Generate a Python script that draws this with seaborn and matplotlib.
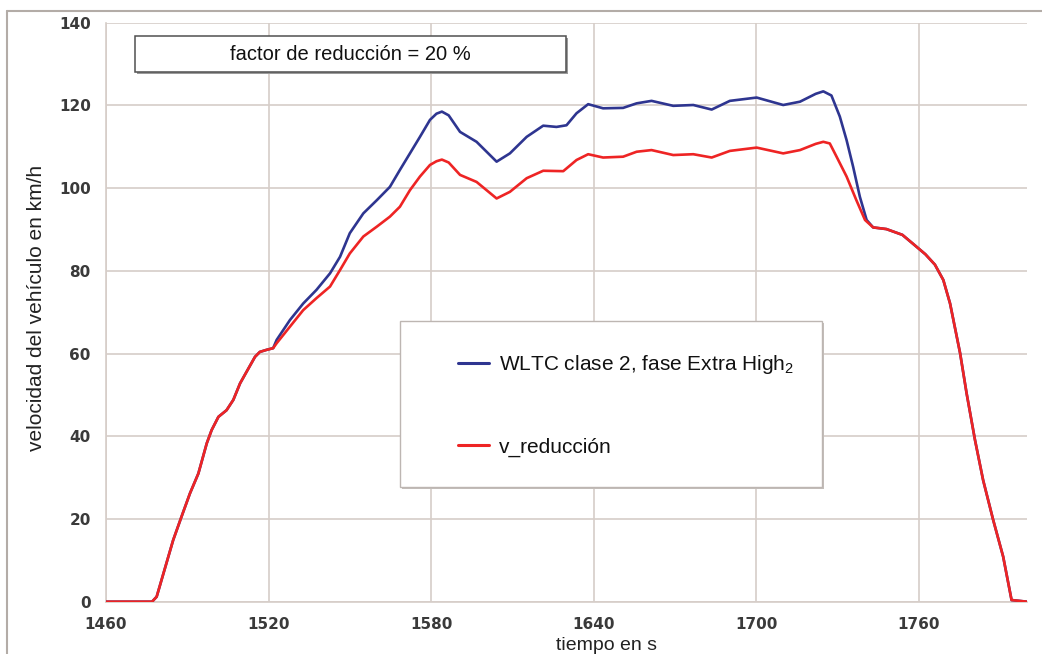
import matplotlib
matplotlib.use("Agg")
import matplotlib.pyplot as plt
from matplotlib.patches import Rectangle
from matplotlib.lines import Line2D
import seaborn as sns
import pandas as pd

# tramo común (arranque), ambas curvas coinciden
t_inicio = [1460, 1477, 1478.7, 1484.8, 1487.9, 1491, 1494.1, 1497.2, 1499, 1501.5,
            1504.5, 1507, 1509.5, 1511.9, 1515, 1516.8, 1519.3, 1521.7]
v_inicio = [0, 0, 1.2, 14.9, 20.6, 26.2, 31, 38.3, 41.5, 44.7,
            46.3, 48.8, 52.8, 55.6, 59.2, 60.4, 60.9, 61.3]

# WLTC clase 2, fase Extra High2
t_wltc = [1523, 1527.9, 1532.8, 1537.7, 1542.7, 1546.4, 1550, 1555, 1560, 1564.8,
          1568.5, 1572.2, 1575.9, 1579.6, 1582, 1584, 1586.5, 1590.7, 1596.8, 1600.5,
          1604.2, 1609.1, 1615.3, 1621.4, 1626.3, 1630, 1633.7, 1638, 1643.5, 1650.9,
          1655.9, 1661.4, 1669.4, 1676.8, 1683.6, 1690.3, 1700.2, 1710, 1716.2, 1722,
          1724.8, 1727.8, 1730.9, 1733.4, 1735.8, 1738.3, 1740.8]
v_wltc = [63.3, 68.1, 72.1, 75.4, 79.4, 83.4, 89.1, 93.9, 97.1, 100.3,
          104.4, 108.4, 112.4, 116.5, 118.0, 118.5, 117.6, 113.6, 111.2, 108.8,
          106.4, 108.4, 112.4, 115.1, 114.8, 115.2, 118.1, 120.3, 119.3, 119.4,
          120.5, 121.1, 119.9, 120.1, 119.0, 121.1, 121.9, 120.1, 120.9, 122.8,
          123.4, 122.4, 117.3, 111.6, 105.2, 97.9, 92.3]

# v_reducción
t_red = [1523, 1527.9, 1532.8, 1537.7, 1542.7, 1546.4, 1550, 1555, 1560, 1564.8,
         1568.5, 1572.2, 1575.9, 1579.6, 1582, 1584, 1586.5, 1590.7, 1596.8, 1600.5,
         1604.2, 1609.1, 1615.3, 1621.4, 1628.8, 1633.7, 1638, 1643.5, 1650.9, 1655.9,
         1661.4, 1669.4, 1676.8, 1683.6, 1690.3, 1700.2, 1710, 1716.2, 1722, 1724.8,
         1727.2, 1729.7, 1733.4, 1737, 1740.2]
v_red = [62.5, 66.5, 70.5, 73.4, 76.2, 80.2, 84.2, 88.3, 90.7, 93.1,
         95.5, 99.5, 102.8, 105.6, 106.5, 106.9, 106.2, 103.2, 101.5, 99.5,
         97.5, 99.1, 102.4, 104.2, 104.1, 106.8, 108.2, 107.4, 107.6, 108.8,
         109.2, 108.0, 108.2, 107.4, 109.0, 109.8, 108.4, 109.2, 110.7, 111.2,
         110.8, 107.6, 102.8, 97.1, 92.3]

# tramo común (deceleración final)
t_final = [1743.2, 1748.1, 1754, 1758, 1762.5, 1766, 1769.1, 1771.6, 1775.3, 1777.7,
           1780.8, 1783.8, 1787.5, 1791.2, 1794.3, 1800]
v_final = [90.5, 90.1, 88.7, 86.5, 84.0, 81.5, 77.8, 72.1, 60.1, 50.4,
           39.1, 29.4, 19.8, 10.9, 0.4, 0]

x_ticks = [1460, 1520, 1580, 1640, 1700, 1760]
y_ticks = [0, 20, 40, 60, 80, 100, 120, 140]

etiqueta_wltc = "WLTC clase 2, fase Extra High$_2$"
etiqueta_red = "v_reducción"
texto_factor = "factor de reducción = 20 %"

azul = "#2e3590"
rojo = "#ee2424"
gris_rejilla = "#d6cdc8"

sns.set_style("white")
plt.rcParams["font.family"] = ["Liberation Sans", "DejaVu Sans"]
plt.rcParams["mathtext.fontset"] = "custom"
plt.rcParams["mathtext.rm"] = "Liberation Sans"
plt.rcParams["mathtext.it"] = "Liberation Sans:italic"

df_wltc = pd.DataFrame({"t": t_inicio + t_wltc + t_final, "v": v_inicio + v_wltc + v_final})
df_red = pd.DataFrame({"t": t_inicio + t_red + t_final, "v": v_inicio + v_red + v_final})

W, H = 1042, 654
fig = plt.figure(figsize=(W / 100, H / 100), dpi=100)
ax = fig.add_axes([106 / W, 1 - 601.7 / H, 921 / W, 579 / H])

sns.lineplot(data=df_wltc, x="t", y="v", ax=ax, color=azul, lw=1.9,
             sort=False, estimator=None, label=etiqueta_wltc, zorder=4)
sns.lineplot(data=df_red, x="t", y="v", ax=ax, color=rojo, lw=1.9,
             sort=False, estimator=None, label=etiqueta_red, zorder=4)

ax.set_xlim(1460, 1800)
ax.set_ylim(0, 140)
ax.set_xticks(x_ticks)
ax.set_xticks(range(1460, 1801, 10), minor=True)
ax.set_yticks(y_ticks)
ax.set_yticks(range(0, 141, 5), minor=True)
ax.grid(True, which="major", color=gris_rejilla, lw=1.2, zorder=0)
ax.set_axisbelow(True)

for lado in ["top", "right"]:
    ax.spines[lado].set_visible(False)
for lado in ["left", "bottom"]:
    ax.spines[lado].set_color(gris_rejilla)
    ax.spines[lado].set_linewidth(1.2)

ax.tick_params(which="major", direction="inout", length=10, width=1.2,
               color=gris_rejilla, labelsize=11, labelcolor="#3a3a3a", pad=6)
ax.tick_params(which="minor", direction="inout", length=7, width=1.2, color=gris_rejilla)
ax.tick_params(axis="x", which="major", pad=6)
for lbl in ax.get_xticklabels() + ax.get_yticklabels():
    lbl.set_fontweight("bold")
    lbl.set_family("DejaVu Sans")

ax.set_xlabel("tiempo en s", fontsize=14, color="#222222")
ax.xaxis.set_label_coords((607 - 106) / 921, (601.7 - 645.5) / 579)
ax.xaxis.label.set_va("center")
ax.set_ylabel("velocidad del vehículo en km/h", fontsize=15, color="#222222")
ax.yaxis.set_label_coords((37 - 106) / 921, (601.7 - 308) / 579)
ax.yaxis.label.set_va("center")

# cuadro con el factor de reducción
px = lambda x: (x - 106) / 921
py = lambda y: (601.7 - y) / 579
ax.add_patch(Rectangle((px(136.5), py(73.5)), px(567.5) - px(136.5), py(37.5) - py(73.5),
                       transform=ax.transAxes, facecolor="#9a9a9a", edgecolor="none", zorder=5))
ax.add_patch(Rectangle((px(135), py(72)), px(566) - px(135), py(36) - py(72),
                       transform=ax.transAxes, facecolor="white", edgecolor="#505050", lw=1.1, zorder=6))
ax.text(px(350), py(54), texto_factor, transform=ax.transAxes, ha="center", va="center",
        fontsize=14.5, color="#111111", zorder=7)

# recuadro de la leyenda
ax.add_patch(Rectangle((px(402), py(489)), px(824) - px(402), py(323) - py(489),
                       transform=ax.transAxes, facecolor="#c4beba", edgecolor="none", zorder=5))
ax.add_patch(Rectangle((px(400), py(487)), px(822) - px(400), py(321) - py(487),
                       transform=ax.transAxes, facecolor="white", edgecolor="#bdb6b2", lw=1.0, zorder=6))
leg = ax.legend(loc="upper left", bbox_to_anchor=(px(458), py(353)), frameon=False,
                fontsize=15, handlelength=1.5, handletextpad=0.45, labelspacing=2.95,
                borderpad=0, borderaxespad=0)
leg.set_zorder(8)
for h in leg.get_lines():
    h.set_linewidth(2.2)
for txt in leg.get_texts():
    txt.set_color("#111111")

# marco exterior
fig.add_artist(Line2D([7 / W, 7 / W], [0, 1 - 11 / H], transform=fig.transFigure,
                      color="#b3aca7", lw=1.5))
fig.add_artist(Line2D([7 / W, 1], [1 - 11 / H, 1 - 11 / H], transform=fig.transFigure,
                      color="#b3aca7", lw=1.5))

fig.savefig("out.png", dpi=100)
